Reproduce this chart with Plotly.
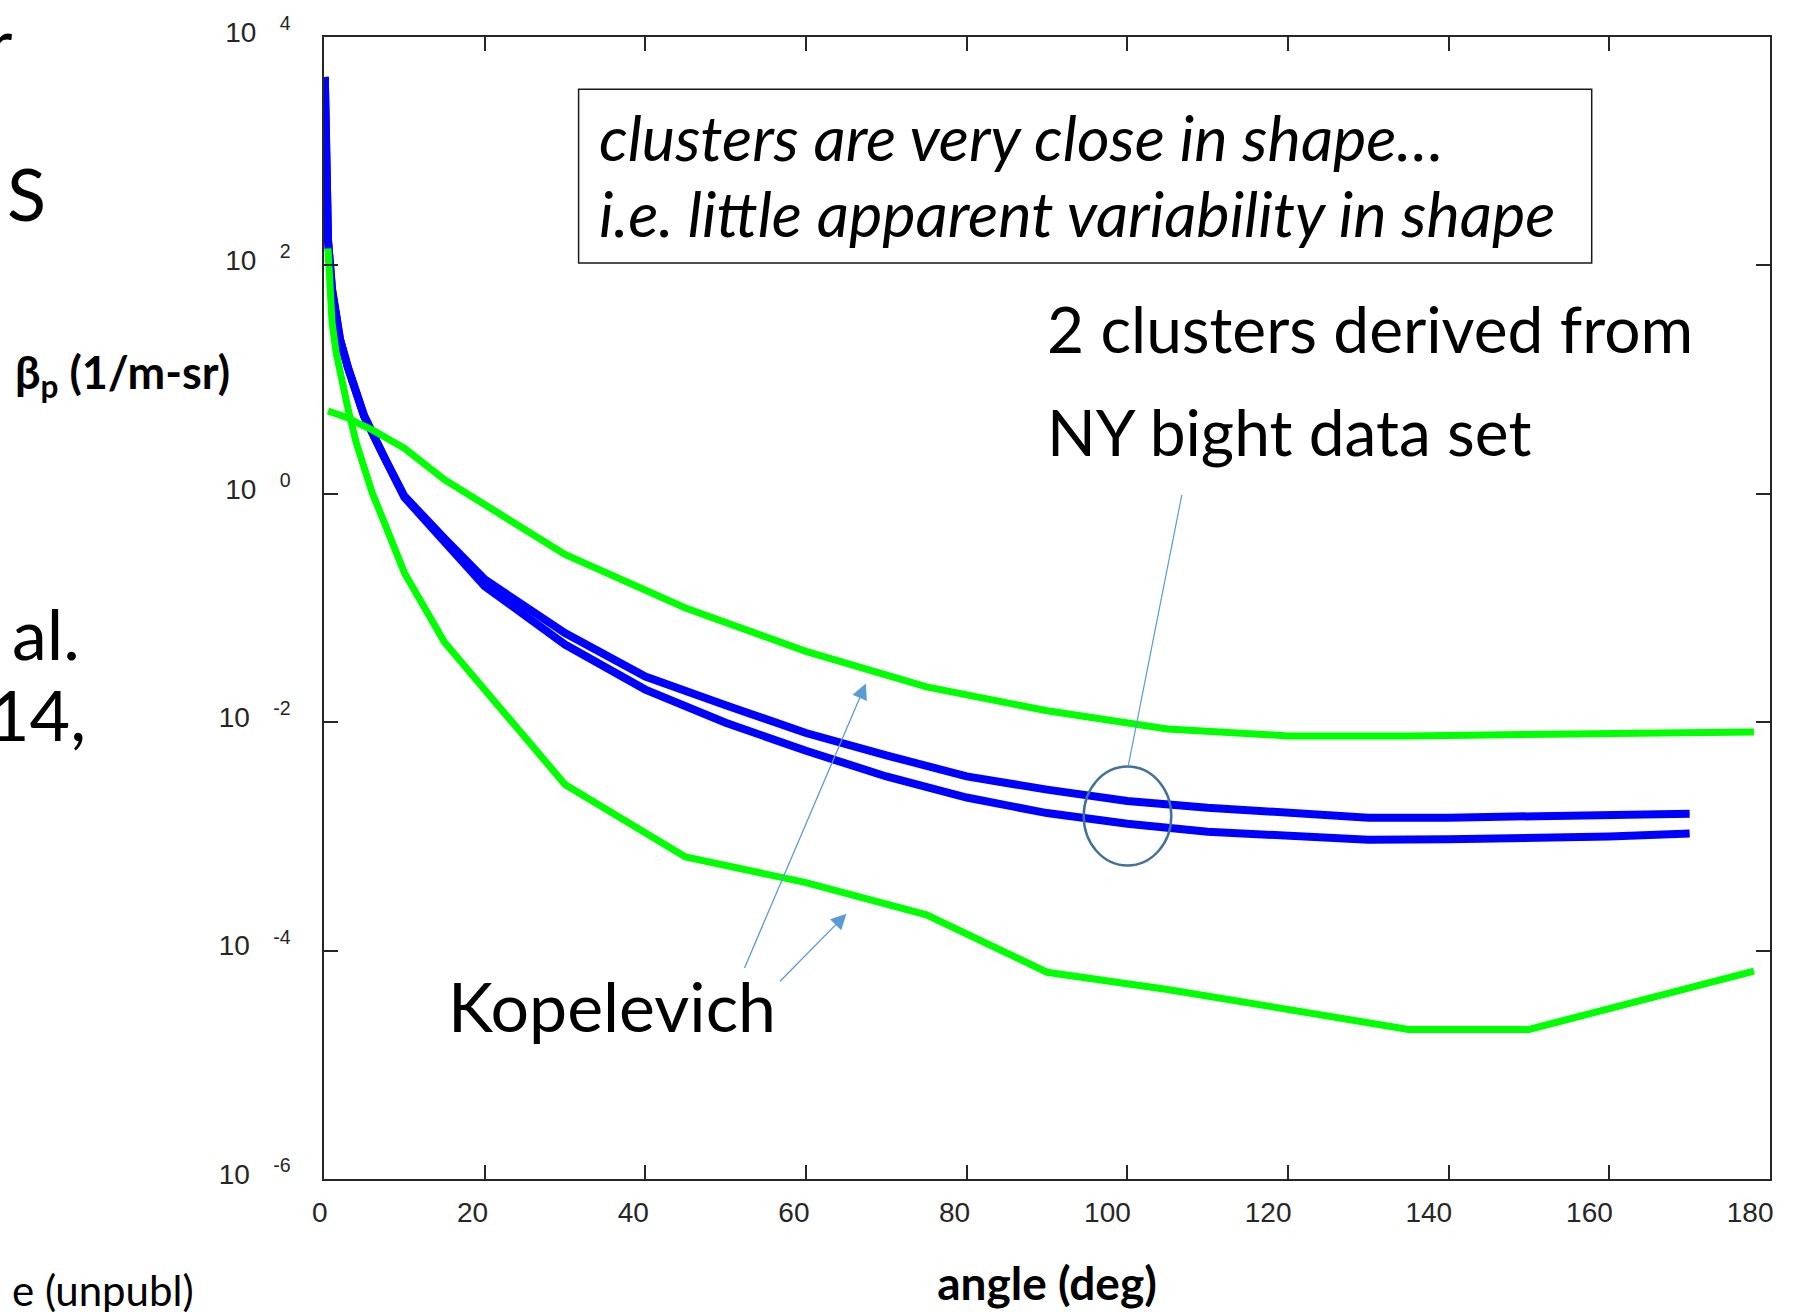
import plotly.graph_objects as go

# Particulate volume scattering function vs. scattering angle
angles_cluster = [0.1, 0.25, 0.5, 1, 2, 3, 4, 5, 7.5, 10, 15, 20, 30, 40, 50,
                  60, 70, 80, 90, 100, 110, 120, 130, 140, 150, 160, 170]
beta_cluster_1 = [4470, 794, 166, 61.7, 22.4, 12.6, 7.41, 4.79, 2.09, 0.955,
                  0.407, 0.178, 0.0603, 0.0251, 0.0141, 0.00804, 0.00513,
                  0.00335, 0.00257, 0.00204, 0.00178, 0.00160, 0.00146,
                  0.00146, 0.00148, 0.00153, 0.00158]
beta_cluster_2 = [4470, 794, 166, 61.7, 22.4, 12.6, 7.41, 4.79, 2.09, 0.933,
                  0.380, 0.155, 0.0479, 0.0193, 0.00989, 0.00562, 0.00335,
                  0.00219, 0.00160, 0.00129, 0.00110, 0.00100, 0.000933,
                  0.000944, 0.000966, 0.00100, 0.00106]

angles_kopelevich = [0.5, 1, 1.5, 2, 3, 4, 5, 6, 7.5, 10, 15, 30, 45, 60, 75,
                     90, 105, 120, 135, 150, 178]
beta_kopelevich_high = [5.31, 5.19, 5.01, 4.90, 4.62, 4.22, 3.98, 3.63, 3.16,
                        2.51, 1.33, 0.295, 0.100, 0.0417, 0.0204, 0.0126,
                        0.00871, 0.00759, 0.00759, 0.00776, 0.00822]
beta_kopelevich_low = [141, 31.6, 17.4, 11.2, 5.50, 2.82, 1.66, 1.02, 0.562,
                       0.204, 0.0501, 0.00285, 6.61e-4, 3.94e-4, 2.06e-4,
                       6.46e-5, 4.57e-5, 3.02e-5, 2.04e-5, 2.04e-5, 6.61e-5]

x_tick_vals = [0, 20, 40, 60, 80, 100, 120, 140, 160, 180]
y_tick_vals = [1e-6, 1e-4, 1e-2, 1, 1e2, 1e4]
y_tick_exponents = ["-6", "-4", "-2", "0", "2", "4"]

W, H = 1793, 1312
L, R, T, B = 324, 23, 37, 133
PW, PH = W - L - R, H - T - B


def px(x):
    return (x - L) / PW


def py(y):
    return (H - B - y) / PH


BLUE = "#0000FF"
GREEN = "#00FF00"
AXIS = "#262626"
NOTE = "#5B9BD5"
TEXT_FONT = "Lato"
TICK_FONT = "Liberation Sans, Arial, sans-serif"

fig = go.Figure()
for ys in (beta_cluster_1, beta_cluster_2):
    fig.add_trace(go.Scatter(x=angles_cluster, y=ys, mode="lines",
                             line=dict(color=BLUE, width=8), showlegend=False))
for ys in (beta_kopelevich_high, beta_kopelevich_low):
    fig.add_trace(go.Scatter(x=angles_kopelevich, y=ys, mode="lines",
                             line=dict(color=GREEN, width=7), showlegend=False))

axis_common = dict(showline=True, linecolor=AXIS, linewidth=1.5, mirror="ticks",
                   ticks="inside", ticklen=14, tickwidth=1.5, tickcolor=AXIS,
                   showgrid=False, zeroline=False,
                   tickfont=dict(family=TICK_FONT, size=28, color=AXIS))

fig.update_xaxes(range=[0, 180], tickmode="array", tickvals=x_tick_vals,
                 ticklabelposition="outside left", ticklabelshift=5,
                 ticklabelstandoff=8,
                 title=dict(text="<b>angle (deg)</b>", standoff=40,
                            font=dict(family=TEXT_FONT, size=46, color="black")),
                 **axis_common)
fig.update_yaxes(type="log", range=[-6, 4], tickmode="array",
                 tickvals=y_tick_vals,
                 ticktext=["10\u00a0\u00a0\u00a0<sup>%s</sup>" % e for e in y_tick_exponents],
                 ticklabelstandoff=26, ticklabelshift=-5,
                 **axis_common)

shapes = [
    # note box
    dict(type="rect", xref="paper", yref="paper", x0=px(578.6), x1=px(1591.7),
         y0=py(263), y1=py(89.2), line=dict(color="#1a1a1a", width=1.5),
         fillcolor="white", layer="above"),
    # ellipse around the cluster curves
    dict(type="circle", xref="paper", yref="paper", x0=px(1083.7), x1=px(1171.3),
         y0=py(865.5), y1=py(766.5), line=dict(color="#41719C", width=2.5)),
]

annotations = [
    dict(text="<i>clusters are very close in shape…</i>", x=px(597), y=py(137)),
    dict(text="<i>i.e. little apparent variability in shape</i>", x=px(597), y=py(213)),
]
for a in annotations:
    a.update(xref="paper", yref="paper", xanchor="left", yanchor="middle",
             showarrow=False, font=dict(family=TEXT_FONT, size=63, color="black"))

plain = [
    ("2 clusters derived from", 1045, 329, 64, "left"),
    ("NY bight data set", 1045, 431, 64, "left"),
    ("Kopelevich", 446, 1005, 68, "left"),
    ("S", 5, 193, 72, "left"),
    ("al.", 82, 633, 70, "right"),
    ("14,", 88, 714, 70, "right"),
    ("r", 14, 42, 70, "right"),
    ("e (unpubl)", 196, 1290, 42, "right"),
]
for txt, x, y, size, anchor in plain:
    annotations.append(dict(text=txt, x=px(x), y=py(y), xref="paper", yref="paper",
                            xanchor=anchor, yanchor="middle", showarrow=False,
                            font=dict(family=TEXT_FONT, size=size, color="black")))

# y-axis label, drawn horizontally
annotations.append(dict(text="<b>β<sub>p</sub> (1/m-sr)</b>", x=px(13), y=py(375),
                        xref="paper", yref="paper", xanchor="left", yanchor="middle",
                        showarrow=False,
                        font=dict(family=TEXT_FONT, size=45, color="black")))

# pointer arrows (heads given in axis coordinates, log10 for y)
arrow_style = dict(xref="x", yref="y", text="", showarrow=True, arrowhead=2,
                   arrowsize=2.4, arrowwidth=1.3, arrowcolor=NOTE, standoff=0)
annotations.append(dict(x=67.45, y=-1.661, ax=-122, ay=286, **arrow_style))
annotations.append(dict(x=65.05, y=-3.677, ax=-68, ay=69, **arrow_style))
annotations.append(dict(x=100.1, y=-2.387, ax=54, ay=-273, xref="x", yref="y",
                        text="", showarrow=True, arrowhead=0, arrowwidth=1.2,
                        arrowcolor=NOTE, standoff=0))

fig.update_layout(width=W, height=H, margin=dict(l=L, r=R, t=T, b=B),
                  paper_bgcolor="white", plot_bgcolor="white",
                  shapes=shapes, annotations=annotations, showlegend=False)

fig.write_html("out.html")
